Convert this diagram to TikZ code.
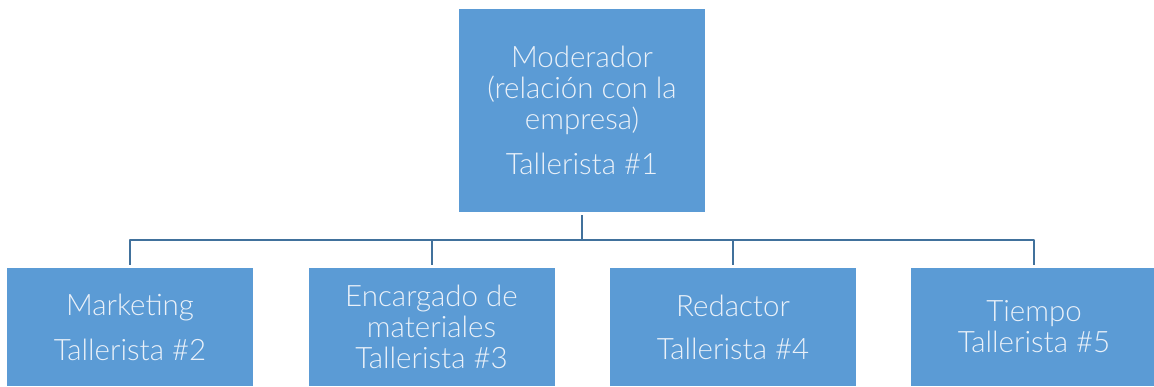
\documentclass[tikz,border=0pt]{standalone}
\usepackage{fontspec}
\IfFontExistsTF{Lato Light}{\setmainfont{Lato Light}}{\setmainfont{Lato}}
\definecolor{boxblue}{HTML}{5B9BD5}
\definecolor{lineblue}{HTML}{41719C}
\definecolor{boxtext}{HTML}{EAF1F9}
\begin{document}
\begin{tikzpicture}[x=1pt,y=-1pt, line join=round,
    rolebox/.style={rectangle, fill=boxblue, text=boxtext, inner sep=0pt,
        minimum width=246pt, align=center, font=\fontsize{29.5}{31}\selectfont},
    topbox/.style={rolebox, minimum height=203pt},
    lowbox/.style={rolebox, minimum height=118pt},
    conn/.style={draw=lineblue, line width=2pt, shorten <=3pt, shorten >=3pt}]
    \useasboundingbox (0,0) rectangle (1154,386);
    % jefe del taller
    \node[topbox] (mod) at (582,110.5) {Moderador\\(relación con la\\empresa)\\[14pt]Tallerista \#1};
    % talleristas
    \node[lowbox] (mkt) at (130,327) {Marketing\\[14pt]Tallerista \#2};
    \node[lowbox] (enc) at (431.5,327) {Encargado de\\materiales\\Tallerista \#3};
    \node[lowbox] (red) at (733,327) {Redactor\\[12pt]Tallerista \#4};
    \node[lowbox] (tie) at (1034,327) {Tiempo\\Tallerista \#5};
    \foreach \n in {mkt,enc,red,tie}
        \draw[conn] (mod.south) -- ++(0,28) -| (\n.north);
\end{tikzpicture}
\end{document}
